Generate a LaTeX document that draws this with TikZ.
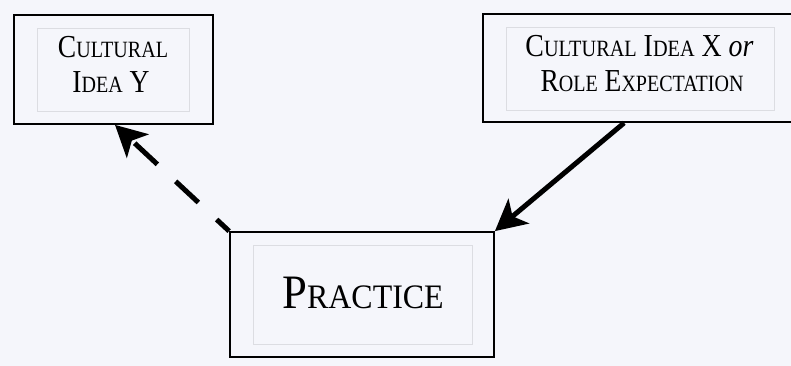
\documentclass[tikz,border=0pt]{standalone}
\usepackage{fontspec}
\setmainfont{Liberation Serif}
\usetikzlibrary{arrows.meta}
\definecolor{paper}{HTML}{F5F6FB}
\definecolor{faint}{HTML}{DCDDE2}
\newcommand{\capA}[2]{{\fontsize{32}{34}\selectfont #1}{\fontsize{23.3}{34}\selectfont #2}}
\newcommand{\capB}[2]{{\fontsize{48}{50}\selectfont #1}{\fontsize{34.3}{50}\selectfont #2}}
\tikzset{
  outerbox/.style={draw=black, line width=1.8pt, rectangle, inner sep=0pt},
  innerbox/.style={draw=faint, line width=0.8pt, rectangle, inner sep=0pt},
  smalltxt/.style={anchor=base, inner sep=0pt, font=\fontsize{32}{34}\selectfont},
  bigtxt/.style={anchor=base, inner sep=0pt, font=\fontsize{48}{50}\selectfont},
  arrowline/.style={line width=5pt, -{Stealth[length=31pt,width=32pt,inset=8pt]}},
}
\begin{document}
\begin{tikzpicture}[x=1pt,y=-1pt]
\useasboundingbox (0,0) rectangle (791,366);
\fill[paper] (0,0) rectangle (791,366);
\clip (0,0) rectangle (791,366);
% Box Y
\node[outerbox, minimum width=199pt, minimum height=109pt] (Y) at (113.5,69.5) {};
\node[innerbox, minimum width=152pt, minimum height=83pt] (Yin) at (113,70) {};
\node[smalltxt] (Y1) at (113,58) {\scalebox{0.86}[1]{\capA{C}{ULTURAL}}};
\node[smalltxt] (Y2) at (111,92.5) {\scalebox{0.86}[1]{\capA{I}{DEA} Y}};
% Box X
\node[outerbox, minimum width=317pt, minimum height=108pt] (X) at (641.5,68) {};
\node[innerbox, minimum width=268pt, minimum height=83pt] (Xin) at (640,68.5) {};
\node[smalltxt] (X1) at (639.5,56.5) {\scalebox{0.87}[1]{\capA{C}{ULTURAL} \capA{I}{DEA} X \textit{or}}};
\node[smalltxt] (X2) at (642,91.5) {\scalebox{0.86}[1]{\capA{R}{OLE} \capA{E}{XPECTATION}}};
% Practice
\node[outerbox, minimum width=264pt, minimum height=125pt] (P) at (362,294.5) {};
\node[innerbox, minimum width=219pt, minimum height=99pt] (Pin) at (362.5,294.5) {};
\node[bigtxt] (P1) at (363,308) {\scalebox{0.93}[1]{\capB{P}{RACTICE}}};
% connectors
\coordinate (Xfoot) at ([xshift=142pt]X.south west);
\coordinate (Yfoot) at ([xshift=1.5pt]Y.south);
\draw[arrowline, dash pattern=on 31pt off 25pt, dash phase=14pt] (P.north west) -- (Yfoot);
\draw[arrowline] (Xfoot) -- (P.north east);
\end{tikzpicture}
\end{document}
